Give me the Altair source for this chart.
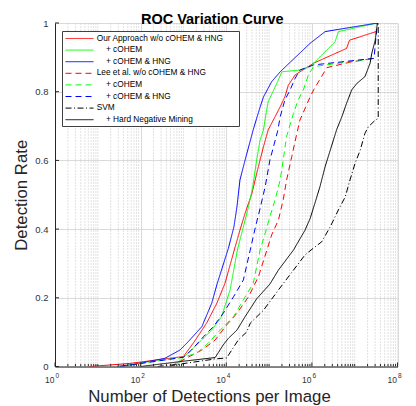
import altair as alt
import pandas as pd

# ---------------- data ----------------
series_ids = ["s1", "s2", "s3", "s4", "s5", "s6", "s7", "s8"]
IND = "\u200b\u00a0\u00a0\u00a0\u00a0"
legend_labels = [
    "Our Approach w/o cOHEM & HNG\u00a0\u00a0\u00a0\u00a0\u00a0\u200b",
    IND + "+ cOHEM",
    IND + "+ cOHEM & HNG",
    "Lee et al. w/o cOHEM & HNG",
    IND + "+ cOHEM",
    IND + "+ cOHEM & HNG",
    "SVM",
    IND + "+ Hard Negative Mining",
]
colors = ["#ff0000", "#00ff00", "#0000ff", "#ff0000", "#00ff00", "#0000ff", "#000000", "#000000"]
dashes = [[1, 0], [1, 0], [1, 0], [6, 4], [6, 4], [6, 4], [6, 2.5, 1, 2.5], [1, 0]]

# log10 of the number of detections per image, and detection rate
our_lx = [0.82, 1.75, 3.0, 3.23, 3.54, 3.78, 3.97, 4.21, 4.32, 4.44, 4.60, 4.75, 4.87, 4.98, 5.14, 5.26, 5.37, 5.45, 5.61, 6.04, 6.81, 6.88, 7.50]
our_y = [0.0, 0.009, 0.029, 0.068, 0.126, 0.184, 0.242, 0.349, 0.397, 0.446, 0.504, 0.582, 0.64, 0.689, 0.727, 0.756, 0.785, 0.819, 0.849, 0.883, 0.926, 0.95, 0.975]

ourc_lx = [2.77, 3.04, 3.31, 3.66, 3.89, 4.09, 4.26, 4.40, 4.52, 4.62, 4.71, 4.79, 4.87, 4.93, 4.98, 5.09, 5.18, 5.30, 5.72, 5.96, 6.54, 6.62, 7.53]
ourc_y = [0.0, 0.031, 0.063, 0.106, 0.145, 0.223, 0.339, 0.407, 0.465, 0.524, 0.601, 0.659, 0.689, 0.737, 0.771, 0.80, 0.824, 0.858, 0.863, 0.873, 0.945, 0.975, 1.0]

ourch_lx = [1.45, 1.83, 2.57, 2.92, 3.11, 3.43, 3.66, 3.79, 3.89, 4.05, 4.18, 4.25, 4.32, 4.44, 4.63, 4.77, 4.87, 5.06, 5.26, 5.96, 6.31, 7.53]
ourch_y = [0.0, 0.006, 0.024, 0.048, 0.072, 0.116, 0.184, 0.242, 0.281, 0.344, 0.407, 0.465, 0.543, 0.601, 0.689, 0.747, 0.785, 0.829, 0.858, 0.941, 0.975, 1.0]

lee_lx = [2.70, 3.11, 3.43, 3.74, 4.01, 4.25, 4.52, 4.75, 4.95, 5.06, 5.22, 5.33, 5.41, 5.53, 5.65, 5.72, 5.96, 6.04, 6.35, 6.89, 7.45]
lee_y = [0.0, 0.027, 0.048, 0.077, 0.121, 0.155, 0.203, 0.261, 0.339, 0.383, 0.427, 0.485, 0.543, 0.611, 0.679, 0.717, 0.785, 0.805, 0.870, 0.886, 0.897]

leec_lx = [1.48, 3.0, 3.31, 3.58, 3.86, 4.17, 4.40, 4.63, 4.79, 4.91, 5.02, 5.14, 5.26, 5.33, 5.41, 5.53, 5.57, 5.68, 5.80, 5.92, 6.04, 7.45]
leec_y = [0.0, 0.027, 0.039, 0.068, 0.106, 0.145, 0.194, 0.242, 0.339, 0.388, 0.436, 0.485, 0.543, 0.601, 0.67, 0.72, 0.737, 0.776, 0.805, 0.849, 0.873, 0.897]

leech_lx = [1.52, 3.0, 3.19, 3.47, 3.70, 3.93, 4.17, 4.40, 4.56, 4.67, 4.79, 4.91, 5.02, 5.20, 5.26, 5.37, 5.49, 5.61, 5.72, 6.04, 7.45, 7.53]
leech_y = [0.0, 0.027, 0.048, 0.087, 0.116, 0.155, 0.203, 0.252, 0.339, 0.40, 0.46, 0.524, 0.601, 0.685, 0.727, 0.776, 0.805, 0.839, 0.863, 0.878, 0.897, 1.0]

svm_lx = [2.40, 2.92, 3.74, 4.01, 4.28, 4.48, 4.56, 4.87, 5.22, 5.84, 6.04, 6.23, 6.43, 6.62, 6.78, 6.89, 7.01, 7.13, 7.24, 7.32, 7.48, 7.55, 7.55]
svm_y = [0.0, 0.007, 0.022, 0.025, 0.077, 0.101, 0.126, 0.164, 0.223, 0.325, 0.345, 0.363, 0.407, 0.456, 0.494, 0.543, 0.592, 0.63, 0.679, 0.698, 0.717, 0.722, 1.0]

hnm_lx = [2.0, 3.04, 3.74, 3.93, 4.05, 4.25, 4.44, 4.71, 5.02, 5.22, 5.57, 5.84, 5.96, 6.07, 6.19, 6.31, 6.43, 6.58, 6.70, 6.81, 6.93, 7.05, 7.24, 7.36, 7.40, 7.48, 7.53]
hnm_y = [0.0, 0.016, 0.026, 0.063, 0.082, 0.106, 0.145, 0.197, 0.24, 0.281, 0.339, 0.397, 0.431, 0.475, 0.524, 0.582, 0.63, 0.69, 0.727, 0.766, 0.805, 0.824, 0.844, 0.883, 0.912, 0.95, 1.0]

major_ticks = [1, 1e2, 1e4, 1e6, 1e8]
major_base = ["10", "10", "10", "10", "10"]
major_exp = ["0", "2", "4", "6", "8"]
minor_ticks = [m * 10 ** k for k in range(8) for m in range(2, 10)] + [1e1, 1e3, 1e5, 1e7]
y_ticks = [0, 0.2, 0.4, 0.6, 0.8, 1.0]

# ---------------- build table ----------------
all_series = [
    (our_lx, our_y), (ourc_lx, ourc_y), (ourch_lx, ourch_y),
    (lee_lx, lee_y), (leec_lx, leec_y), (leech_lx, leech_y),
    (svm_lx, svm_y), (hnm_lx, hnm_y),
]
rows = []
for sid, (lx, ys) in zip(series_ids, all_series):
    for i, (a, b) in enumerate(zip(lx, ys)):
        rows.append({"series": sid, "x": 10 ** a, "y": b, "idx": i})
df = pd.DataFrame(rows)
tick_df = pd.DataFrame({"x": major_ticks, "base": major_base, "exp": major_exp})

W, H = 342.5, 343.5
FONT = "Liberation Sans"
xscale = alt.Scale(type="log", domain=[1, 1e8])
yscale = alt.Scale(domain=[0, 1])

label_expr = " : ".join(
    f"datum.label == '{s}' ? '{l}'" for s, l in zip(series_ids[:-1], legend_labels[:-1])
) + f" : '{legend_labels[-1]}'"

legend = alt.Legend(
    title=None, orient="none", legendX=7, legendY=8,
    symbolType="M-1,0H6", symbolSize=64, symbolStrokeWidth=1,
    labelFont=FONT, labelFontSize=8.3, labelColor="#000000", labelOffset=22.7,
    labelLimit=400, padding=3, rowPadding=2.6,
    strokeColor="#404040", fillColor="#ffffff", labelExpr=label_expr,
)

minor_grid = alt.Chart(pd.DataFrame({"x": minor_ticks})).mark_rule(
    color="#c4c4c4", strokeWidth=1, strokeDash=[1, 2]
).encode(
    x=alt.X("x:Q", scale=xscale),
    y=alt.datum(0, scale=yscale),
    y2=alt.datum(1),
)

lines = alt.Chart(df).mark_line(strokeWidth=1, clip=True).encode(
    x=alt.X("x:Q", scale=xscale, axis=alt.Axis(
        values=major_ticks, grid=True, gridColor="#dadada", gridWidth=1, ticks=False,
        labels=False, domainColor="#262626", domainWidth=1,
        title="Number of Detections per Image", titleFont=FONT, titleFontSize=16.8,
        titleFontWeight="normal", titleColor="#262626", titlePadding=22,
        titleX=154, titleAnchor="middle", titleAlign="center",
    )),
    y=alt.Y("y:Q", scale=yscale, axis=alt.Axis(
        values=y_ticks, grid=True, gridColor="#dadada", gridWidth=1, ticks=False,
        domainColor="#262626", domainWidth=1, format="~g",
        labelFont=FONT, labelFontSize=9.5, labelColor="#333333", labelPadding=7,
        title="Detection Rate", titleFont=FONT, titleFontSize=16.8,
        titleFontWeight="normal", titleColor="#262626", titlePadding=4,
    )),
    color=alt.Color("series:N", scale=alt.Scale(domain=series_ids, range=colors), legend=legend),
    strokeDash=alt.StrokeDash("series:N", scale=alt.Scale(domain=series_ids, range=dashes), legend=legend),
    order="idx:Q",
)

xmaj = alt.Chart(pd.DataFrame({"x": major_ticks})).mark_rule(color="#262626", strokeWidth=1).encode(
    x=alt.X("x:Q", scale=xscale), y=alt.value(H), y2=alt.value(H - 4))
xmin = alt.Chart(pd.DataFrame({"x": minor_ticks})).mark_rule(color="#262626", strokeWidth=1).encode(
    x=alt.X("x:Q", scale=xscale), y=alt.value(H), y2=alt.value(H - 2.5))
yt = alt.Chart(pd.DataFrame({"y": y_ticks})).mark_rule(color="#262626", strokeWidth=1).encode(
    y=alt.Y("y:Q", scale=yscale), x=alt.value(0), x2=alt.value(4))

xbase = alt.Chart(tick_df).mark_text(
    font=FONT, fontSize=8.5, color="#333333", align="right", baseline="alphabetic", dx=-0.5
).encode(x=alt.X("x:Q", scale=xscale), y=alt.value(H + 16), text="base:N")
xexp = alt.Chart(tick_df).mark_text(
    font=FONT, fontSize=6.5, color="#333333", align="left", baseline="alphabetic", dx=0.5
).encode(x=alt.X("x:Q", scale=xscale), y=alt.value(H + 11), text="exp:N")

chart = alt.layer(minor_grid, lines, xmaj, xmin, yt, xbase, xexp).properties(
    width=W, height=H,
    title=alt.Title("ROC Variation Curve", font=FONT, fontSize=14.5, fontWeight="bold",
                    color="#000000", anchor="middle", dx=-14, dy=13.5, offset=4, frame="group"),
    autosize=alt.AutoSizeParams(type="none"),
    padding={"left": 47, "top": 15, "right": 10, "bottom": 39},
).configure_view(stroke=None).configure(background="#ffffff")

chart.save("out.html", embed_options={"renderer": "svg", "actions": False})
